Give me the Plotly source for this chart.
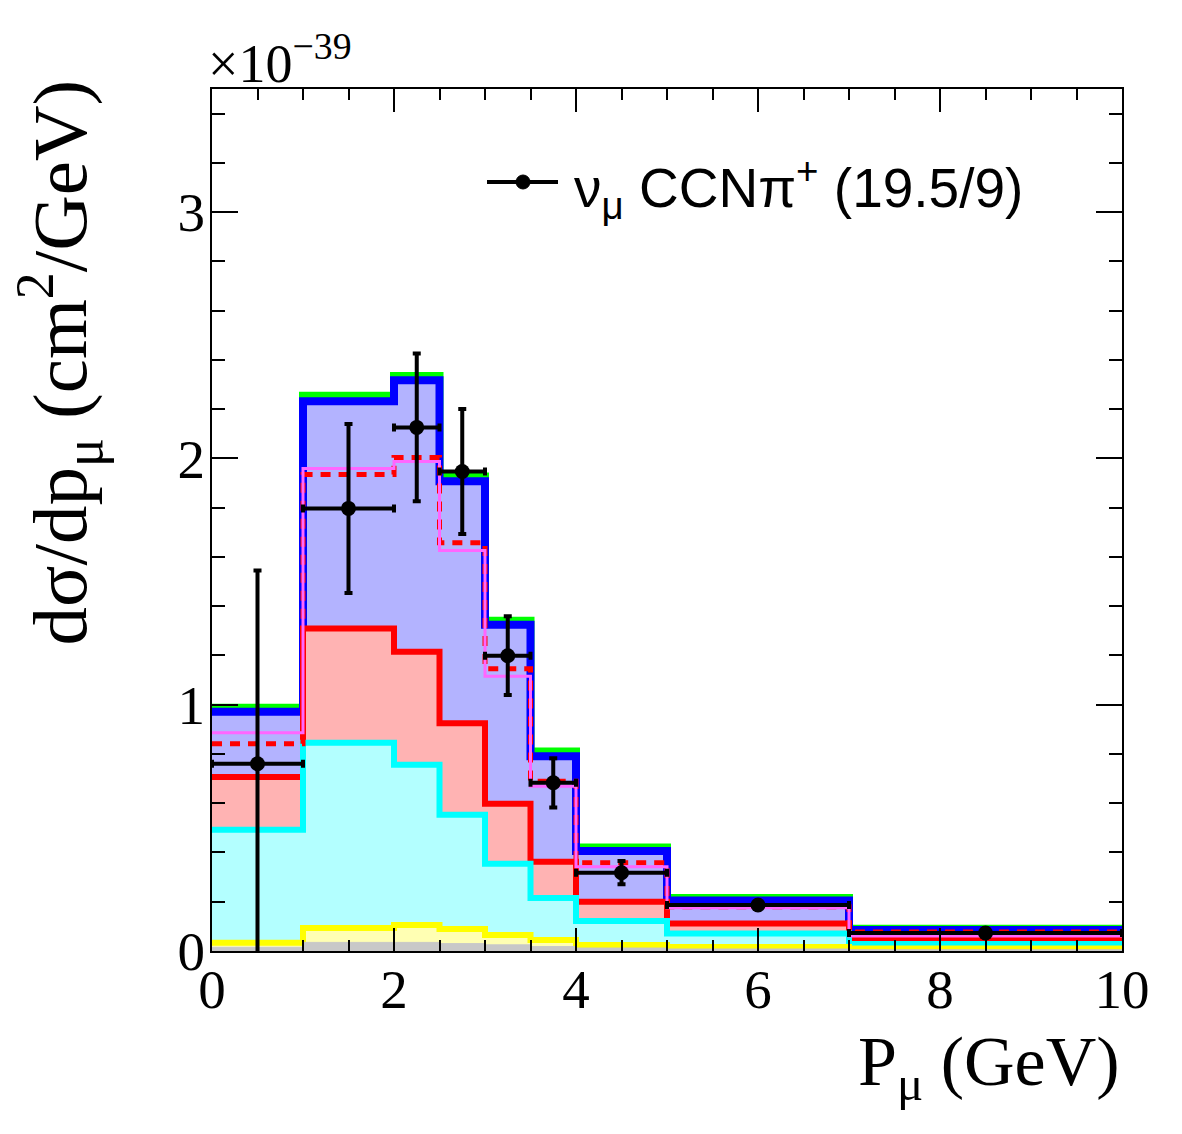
import plotly.graph_objects as go

# ---- data (units of 1e-39 cm^2/GeV) ----
edges = [0, 1, 2, 2.5, 3, 3.5, 4, 5, 7, 10]
green_total = [0.988, 2.255, 2.335, 1.927, 1.341, 0.810, 0.420, 0.215, 0.090]
blue_total = [0.971, 2.232, 2.317, 1.907, 1.325, 0.791, 0.406, 0.205, 0.085]
red_stack = [0.707, 1.309, 1.215, 0.925, 0.598, 0.362, 0.200, 0.112, 0.049]
cyan_stack = [0.492, 0.846, 0.756, 0.553, 0.354, 0.215, 0.122, 0.071, 0.028]
yellow_stack = [0.033, 0.093, 0.106, 0.089, 0.065, 0.045, 0.024, 0.016, 0.010]
gray_stack = [0.015, 0.035, 0.035, 0.030, 0.025, 0.018, 0.012, 0.008, 0.005]
red_dashed = [0.841, 1.935, 2.004, 1.658, 1.146, 0.689, 0.358, 0.180, 0.077]
magenta_line = [0.886, 1.959, 1.988, 1.626, 1.116, 0.669, 0.342, 0.176, 0.061]

data_x = [0.5, 1.5, 2.25, 2.75, 3.25, 3.75, 4.5, 6.0, 8.5]
data_y = [0.760, 1.797, 2.126, 1.947, 1.199, 0.683, 0.318, 0.187, 0.073]
data_err = [0.785, 0.343, 0.300, 0.254, 0.160, 0.100, 0.047, 0.012, 0.005]

legend_label = "ν<sub>μ</sub> CCNπ<sup>+</sup> (19.5/9)"

def step(vals):
    return list(edges), list(vals) + [vals[-1]]

fig = go.Figure()

def add_hist(vals, color, width, fillcolor=None, dash=None):
    xs, ys = step(vals)
    fig.add_trace(go.Scatter(
        x=xs, y=ys, mode="lines", line_shape="hv",
        line=dict(color=color, width=width, dash=dash),
        fill="tozeroy" if fillcolor else None,
        fillcolor=fillcolor, showlegend=False, hoverinfo="skip"))

add_hist(green_total, "#00ff00", 8)
add_hist(blue_total, "#0000ff", 8, "#b3b3ff")
add_hist(red_stack, "#ff0000", 6, "#ffb3b3")
add_hist(cyan_stack, "#00ffff", 6, "#b3ffff")
add_hist(yellow_stack, "#ffff00", 6, "#ffffb3")
add_hist(gray_stack, "#c8c8c8", 1, "#c8c8c8")
add_hist(red_dashed, "#ff0000", 5, dash="10px,8px")
add_hist(magenta_line, "#ff66ff", 3)

half_w = [(edges[i + 1] - edges[i]) / 2 for i in range(len(edges) - 1)]
fig.add_trace(go.Scatter(
    x=data_x, y=data_y, mode="markers",
    marker=dict(color="black", size=15),
    error_y=dict(type="data", array=data_err, color="black", thickness=4, width=4),
    error_x=dict(type="data", array=half_w, color="black", thickness=4, width=4),
    showlegend=False, hoverinfo="skip"))

serif = "Liberation Serif, Times New Roman, serif"
sans = "Liberation Sans, Arial, sans-serif"

axis_common = dict(
    showline=True, linecolor="black", linewidth=2, mirror="allticks",
    ticks="inside", tickcolor="black", tickwidth=2,
    showgrid=False, zeroline=False,
    tickfont=dict(family=serif, size=55, color="black"),
)

fig.update_layout(
    width=1182, height=1134,
    margin=dict(l=212, r=60, t=89, b=183),
    paper_bgcolor="white", plot_bgcolor="white",
    xaxis=dict(range=[0, 10], tickvals=[0, 2, 4, 6, 8, 10], ticklen=23,
               minor=dict(dtick=0.5, ticklen=11, ticks="inside", tickcolor="black", tickwidth=2, showgrid=False),
               ticklabelstandoff=-11, **axis_common),
    yaxis=dict(range=[0, 3.5], tickvals=[0, 1, 2, 3], ticklen=26,
               minor=dict(dtick=0.2, ticklen=13, ticks="inside", tickcolor="black", tickwidth=2, showgrid=False),
               ticklabelstandoff=-6, **axis_common),
)

def px_x(p):
    return (p - 212) / 910.0

def px_y(p):
    return (951 - p) / 862.0

# axis titles
fig.add_annotation(text="P<sub>μ</sub> (GeV)", xref="paper", yref="paper",
                   x=1.0, y=px_y(1021), xanchor="right", yanchor="top",
                   showarrow=False, font=dict(family=serif, size=70, color="black"))
fig.add_annotation(text="dσ/dp<sub>μ</sub> (cm<sup>2</sup>/GeV)", xref="paper", yref="paper",
                   x=px_x(4), y=px_y(78), xanchor="left", yanchor="top", textangle=-90,
                   showarrow=False, font=dict(family=serif, size=77, color="black"))
fig.add_annotation(text="×10<sup>−39</sup>", xref="paper", yref="paper",
                   x=px_x(206), y=px_y(96), xanchor="left", yanchor="bottom",
                   showarrow=False, font=dict(family=serif, size=54, color="black"))

# legend (manual)
fig.add_shape(type="line", xref="paper", yref="paper",
              x0=px_x(487), x1=px_x(558), y0=px_y(182), y1=px_y(182),
              line=dict(color="black", width=4))
fig.add_shape(type="circle", xref="paper", yref="paper",
              x0=px_x(516), x1=px_x(530), y0=px_y(175), y1=px_y(189),
              fillcolor="black", line=dict(color="black", width=1))
fig.add_annotation(text=legend_label, xref="paper", yref="paper",
                   x=px_x(572), y=px_y(188), xanchor="left", yanchor="middle",
                   showarrow=False, font=dict(family=sans, size=55, color="black"))

fig.write_html("out.html")
